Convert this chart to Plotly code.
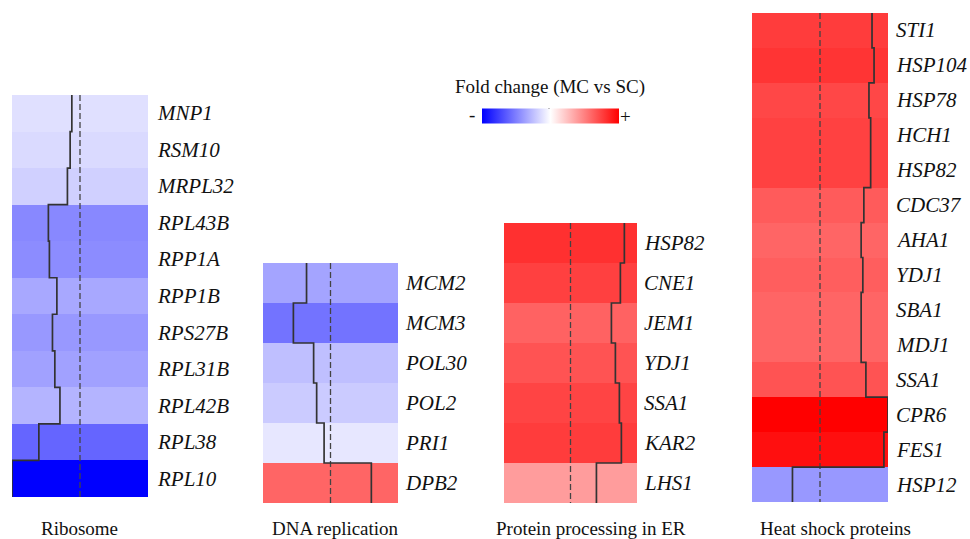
import plotly.graph_objects as go

# ---- data: fold change (MC vs SC) per gene, grouped by pathway ----
ribosome_genes = ["MNP1", "RSM10", "MRPL32", "RPL43B", "RPP1A", "RPP1B",
                  "RPS27B", "RPL31B", "RPL42B", "RPL38", "RPL10"]
ribosome_fc = [-0.24, -0.29, -0.37, -0.93, -0.90, -0.68, -0.81, -0.74, -0.59, -1.21, -2.00]

dna_genes = ["MCM2", "MCM3", "POL30", "POL2", "PRI1", "DPB2"]
dna_fc = [-0.71, -1.10, -0.50, -0.41, -0.19, 1.21]

er_genes = ["HSP82", "CNE1", "JEM1", "YDJ1", "SSA1", "KAR2", "LHS1"]
er_fc = [1.62, 1.50, 1.23, 1.35, 1.47, 1.53, 0.78]

hsp_genes = ["STI1", "HSP104", "HSP78", "HCH1", "HSP82", "CDC37", "AHA1",
             "YDJ1", "SBA1", "MDJ1", "SSA1", "CPR6", "FES1", "HSP12"]
hsp_fc = [1.53, 1.59, 1.44, 1.49, 1.49, 1.29, 1.21, 1.26, 1.21, 1.21, 1.35, 2.00, 1.88, -0.81]

group_names = ["Ribosome", "DNA replication", "Protein processing in ER", "Heat shock proteins"]

FC_MAX = 2.0
W, H = 970, 539
SERIF = "Liberation Serif, Times New Roman, serif"

# panel boxes in pixels: (left, right, top, bottom)
panel_boxes = [(12, 148, 95, 497), (263, 398, 263, 503), (504, 637, 223, 503), (752, 888, 13, 502)]
label_gap = [7, 5, 5, 6]
group_label_x = [79, 335, 591, 835]
group_label_y = 528

colorscale = [[0.0, "rgb(0,0,255)"], [0.5, "rgb(255,255,255)"], [1.0, "rgb(255,0,0)"]]

# horizontal colour key (bar length excludes the 10px padding on each side)
key_cx, key_cy, key_len, key_thick, key_pad = 550, 115.5, 137, 15, 10

groups = [(ribosome_genes, ribosome_fc), (dna_genes, dna_fc), (er_genes, er_fc), (hsp_genes, hsp_fc)]

fig = go.Figure()
annotations = []

for k, (genes, vals) in enumerate(groups):
    n = len(genes)
    xa = "x" if k == 0 else f"x{k+1}"
    ya = "y" if k == 0 else f"y{k+1}"
    left, right, top, bottom = panel_boxes[k]

    fig.add_trace(go.Heatmap(
        z=[[v] for v in vals],
        x=[-FC_MAX, FC_MAX],
        y=list(range(n)),
        zmin=-FC_MAX, zmax=FC_MAX,
        colorscale=colorscale,
        showscale=(k == 0),
        colorbar=dict(
            orientation="h",
            x=key_cx / W, xanchor="center",
            y=1 - key_cy / H, yanchor="middle",
            len=key_len + 2 * key_pad, lenmode="pixels",
            xpad=key_pad, ypad=0,
            thickness=key_thick, thicknessmode="pixels",
            outlinewidth=0, ticks="", showticklabels=False,
        ),
        hoverinfo="skip",
        xaxis=xa, yaxis=ya,
    ))

    # zero reference line
    fig.add_trace(go.Scatter(
        x=[0, 0], y=[-0.5, n - 0.5], mode="lines",
        line=dict(color="#444444", width=1.3, dash="6px,3px"),
        hoverinfo="skip", showlegend=False, xaxis=xa, yaxis=ya,
    ))

    # step trace of each gene's value
    sx, sy = [], []
    for i, v in enumerate(vals):
        sx += [v, v]
        sy += [i - 0.5, i + 0.5]
    fig.add_trace(go.Scatter(
        x=sx, y=sy, mode="lines",
        line=dict(color="#333333", width=1.7),
        hoverinfo="skip", showlegend=False, xaxis=xa, yaxis=ya,
    ))

    axis_common = dict(visible=False, showgrid=False, zeroline=False, fixedrange=True)
    fig.update_layout(**{
        ("xaxis" if k == 0 else f"xaxis{k+1}"): dict(
            domain=[left / W, right / W], range=[-FC_MAX, FC_MAX],
            anchor=ya, **axis_common),
        ("yaxis" if k == 0 else f"yaxis{k+1}"): dict(
            domain=[1 - bottom / H, 1 - top / H], range=[n - 0.5, -0.5],
            anchor=xa, **axis_common),
    })

    # gene names to the right of each row
    for i, g in enumerate(genes):
        annotations.append(dict(
            x=FC_MAX, y=i, xref=xa, yref=ya, text=g, showarrow=False,
            xanchor="left", yanchor="middle", xshift=label_gap[k],
            font=dict(family=SERIF, size=21, color="#111111", style="italic"),
        ))

    # pathway name under each panel
    annotations.append(dict(
        x=group_label_x[k] / W, y=1 - group_label_y / H, xref="paper", yref="paper",
        text=group_names[k], showarrow=False, xanchor="center", yanchor="middle",
        font=dict(family=SERIF, size=19, color="#111111"),
    ))

# colour key title and end markers
annotations += [
    dict(x=key_cx / W, y=1 - 87 / H, xref="paper", yref="paper",
         text="Fold change (MC vs SC)", showarrow=False, xanchor="center", yanchor="middle",
         font=dict(family=SERIF, size=19, color="#111111")),
    dict(x=(key_cx - key_len / 2 - 10) / W, y=1 - (key_cy - 1) / H, xref="paper", yref="paper",
         text="-", showarrow=False, xanchor="center", yanchor="middle",
         font=dict(family=SERIF, size=19, color="#111111")),
    dict(x=(key_cx + key_len / 2 + 7) / W, y=1 - (key_cy + 1) / H, xref="paper", yref="paper",
         text="+", showarrow=False, xanchor="center", yanchor="middle",
         font=dict(family=SERIF, size=19, color="#111111")),
]

shapes = [dict(
    type="line", xref="paper", yref="paper",
    x0=(key_cx - 1) / W, x1=(key_cx - 1) / W,
    y0=1 - (key_cy - key_thick / 2) / H, y1=1 - (key_cy + key_thick / 2) / H,
    line=dict(color="#444444", width=1.3, dash="4px,3px"),
)]

fig.update_layout(
    width=W, height=H,
    margin=dict(l=0, r=0, t=0, b=0),
    paper_bgcolor="white", plot_bgcolor="white",
    showlegend=False,
    annotations=annotations,
    shapes=shapes,
)

fig.write_html("out.html")
